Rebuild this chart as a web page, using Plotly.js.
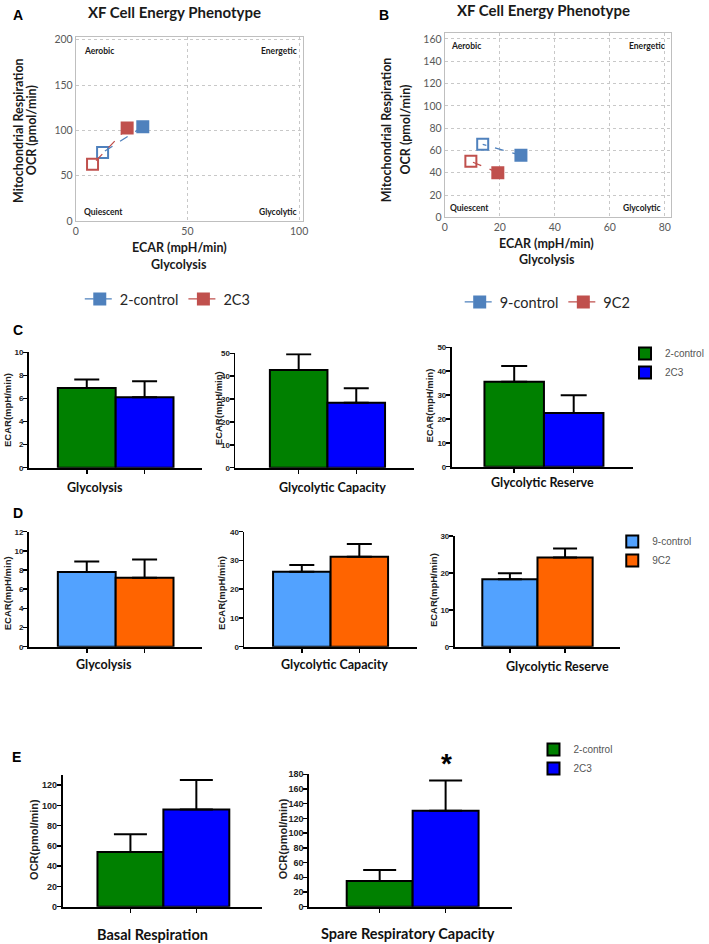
<!DOCTYPE html>
<html>
<head>
<meta charset="utf-8">
<script src="https://cdn.plot.ly/plotly-3.0.1.min.js"></script>
<style>
  html, body { margin: 0; padding: 0; background: #fff; }
  #fig { width: 709px; height: 944px; }
</style>
</head>
<body>
<div id="fig"></div>
<script>
// ---- values ----
// energy phenotype points, order: [stressed (filled), baseline (open)]
const ctrl2Ecar = [30, 12];
const ctrl2Ocr = [104, 75.5];
const c3Ecar = [23, 7.5];
const c3Ocr = [102.5, 62.5];
const ctrl9Ecar = [27.7, 13.8];
const ctrl9Ocr = [55.6, 65.5];
const c2Ecar = [19.3, 9.5];
const c2Ocr = [40, 50.2];

const groupsC = ['2-control', '2C3'];
const groupsD = ['9-control', '9C2'];

// bar means and upper error (SEM)
const glycolysisC = [6.9, 6.1];
const glycolysisCErr = [0.75, 1.4];
const capacityC = [42.7, 28.4];
const capacityCErr = [6.9, 6.3];
const reserveC = [35.6, 22.5];
const reserveCErr = [6.6, 7.4];

const glycolysisD = [7.8, 7.2];
const glycolysisDErr = [1.1, 1.9];
const capacityD = [26.1, 31.3];
const capacityDErr = [2.3, 4.4];
const reserveD = [18.3, 24.2];
const reserveDErr = [1.6, 2.4];

const basalE = [54, 96];
const basalEErr = [17.5, 29];
const spareE = [35, 130.5];
const spareEErr = [15, 41];

// ---- layout helpers ----
const W = 709, H = 944;
const px = v => v / W;
const py = v => 1 - v / H;

const LATO = 'Lato, "Open Sans", sans-serif';
const ARIAL = '"Liberation Sans", Arial, sans-serif';

const BLUE_XL = '#4F81BD';
const RED_XL = '#C0504D';
const colorsC = ['#008000', '#0000FF'];
const colorsD = ['#52A2FF', '#FF6400'];

function phenoTrace(name, ecar, ocr, color, n, legend) {
  return {
    type: 'scatter', mode: 'lines+markers', name: name,
    x: ecar, y: ocr, xaxis: 'x' + n, yaxis: 'y' + n, legend: legend,
    line: {color: color, width: 1.3, dash: 'dash'},
    marker: {symbol: ['square', 'square-open'], size: 11, color: color, line: {color: color, width: 2}},
    hoverinfo: 'none'
  };
}

function barTraces(groups, vals, errs, colors, n, capW, legend, showLegend) {
  return groups.map((g, i) => ({
    type: 'bar', name: g, x: [g], y: [vals[i]], width: 1,
    xaxis: 'x' + n, yaxis: 'y' + n,
    marker: {color: colors[i], line: {color: '#000', width: 2}},
    error_y: {type: 'data', symmetric: false, array: [errs[i]], arrayminus: [0],
              color: '#000', thickness: 2, width: capW},
    legend: legend, showlegend: showLegend, hoverinfo: 'none'
  }));
}

const traces = [
  phenoTrace('2-control', ctrl2Ecar, ctrl2Ocr, BLUE_XL, '', 'legend'),
  phenoTrace('2C3', c3Ecar, c3Ocr, RED_XL, '', 'legend'),
  phenoTrace('9-control', ctrl9Ecar, ctrl9Ocr, BLUE_XL, '2', 'legend2'),
  phenoTrace('9C2', c2Ecar, c2Ocr, RED_XL, '2', 'legend2'),
  ...barTraces(groupsC, glycolysisC, glycolysisCErr, colorsC, 3, 12.5, 'legend3', true),
  ...barTraces(groupsC, capacityC, capacityCErr, colorsC, 4, 12.5, 'legend3', false),
  ...barTraces(groupsC, reserveC, reserveCErr, colorsC, 5, 13, 'legend3', false),
  ...barTraces(groupsD, glycolysisD, glycolysisDErr, colorsD, 6, 12.5, 'legend4', true),
  ...barTraces(groupsD, capacityD, capacityDErr, colorsD, 7, 12.5, 'legend4', false),
  ...barTraces(groupsD, reserveD, reserveDErr, colorsD, 8, 12, 'legend4', false),
  ...barTraces(groupsC, basalE, basalEErr, colorsC, 9, 16.5, 'legend5', true),
  ...barTraces(groupsC, spareE, spareEErr, colorsC, 10, 16.5, 'legend5', false)
];

const layout = {
  width: W, height: H,
  margin: {l: 0, r: 0, t: 0, b: 0},
  paper_bgcolor: '#fff', plot_bgcolor: '#fff',
  barmode: 'overlay',
  showlegend: true,
  annotations: []
};

// phenotype scatter axes
function phenoAxes(n, xDom, yDom, xMax, yMax, xTicks, yTicks) {
  const common = {
    showgrid: true, gridcolor: '#c8c8c8', griddash: 'dot', gridwidth: 1,
    showline: true, mirror: true, linecolor: '#bfbfbf', linewidth: 1,
    zeroline: false, ticks: '', fixedrange: true,
    tickfont: {family: LATO, size: 10.5, color: '#595959'}
  };
  layout['xaxis' + n] = Object.assign({}, common, {
    domain: [px(xDom[0]), px(xDom[1])], range: [0, xMax], tickvals: xTicks, anchor: 'y' + n
  });
  layout['yaxis' + n] = Object.assign({}, common, {
    domain: [py(yDom[1]), py(yDom[0])], range: [0, yMax], tickvals: yTicks, anchor: 'x' + n
  });
}
phenoAxes('', [76, 304], [36.7, 221], 101.8, 203.3, [0, 50, 100], [0, 50, 100, 150, 200]);
phenoAxes('2', [446, 673], [33.3, 217.3], 82.3, 165.1, [0, 20, 40, 60, 80],
          [0, 20, 40, 60, 80, 100, 120, 140, 160]);

// bar panel axes
const barPanels = [
  {n: 3, x: [29, 203], y: [352.3, 467.7], xr: [-1, 2], yr: [0, 10], dt: 2, g: groupsC, fs: 8},
  {n: 4, x: [236, 415], y: [353.3, 467.7], xr: [-1.1, 2], yr: [0, 50], dt: 10, g: groupsC, fs: 8},
  {n: 5, x: [453, 635], y: [347.3, 466.7], xr: [-1.05, 2], yr: [0, 50], dt: 10, g: groupsC, fs: 8},
  {n: 6, x: [29, 203], y: [531.7, 646.7], xr: [-1, 2], yr: [0, 12], dt: 2, g: groupsD, fs: 8},
  {n: 7, x: [245, 418], y: [531.7, 646.7], xr: [-1, 2], yr: [0, 40], dt: 10, g: groupsD, fs: 8},
  {n: 8, x: [456, 622], y: [536, 646.7], xr: [-1, 2], yr: [0, 30], dt: 10, g: groupsD, fs: 8},
  {n: 9, x: [62.7, 263], y: [775, 906.7], xr: [-1.03, 2], yr: [0, 130], dt: 20, g: groupsC, fs: 9},
  {n: 10, x: [310, 513], y: [774.3, 906.7], xr: [-1.07, 2], yr: [0, 180], dt: 20, g: groupsC, fs: 9}
];
barPanels.forEach(p => {
  const line = {showline: true, linecolor: '#000', linewidth: 1.8, zeroline: false,
                showgrid: false, ticks: 'outside', ticklen: 4, tickwidth: 1.5,
                tickcolor: '#000', fixedrange: true};
  layout['xaxis' + p.n] = Object.assign({}, line, {
    type: 'category', categoryarray: p.g, categoryorder: 'array',
    domain: [px(p.x[0]), px(p.x[1])], range: p.xr, showticklabels: false, anchor: 'y' + p.n
  });
  layout['yaxis' + p.n] = Object.assign({}, line, {
    domain: [py(p.y[1]), py(p.y[0])], range: p.yr, dtick: p.dt, anchor: 'x' + p.n,
    ticklabelstandoff: -2,
    tickfont: {family: ARIAL, size: p.fs, color: '#222', weight: 700}
  });
});

// legends
const scatLegend = {orientation: 'h', xanchor: 'left', yanchor: 'middle', itemwidth: 30,
                    bgcolor: 'rgba(0,0,0,0)', font: {family: LATO, size: 14.5, color: '#262626'}};
layout.legend = Object.assign({}, scatLegend, {x: px(80), y: py(299)});
layout.legend2 = Object.assign({}, scatLegend, {x: px(461), y: py(302)});
const barLegend = {orientation: 'v', xanchor: 'left', yanchor: 'top', itemwidth: 30,
                   tracegroupgap: 0, bgcolor: 'rgba(0,0,0,0)',
                   font: {family: ARIAL, size: 10, color: '#555'}};
layout.legend3 = Object.assign({}, barLegend, {x: px(627), y: py(339)});
layout.legend4 = Object.assign({}, barLegend, {x: px(614), y: py(527)});
layout.legend5 = Object.assign({}, barLegend, {x: px(535), y: py(735)});

// ---- text ----
function label(text, x, y, font, extra) {
  return Object.assign({text: text, x: px(x), y: py(y), xref: 'paper', yref: 'paper',
                        showarrow: false, font: font, xanchor: 'center', yanchor: 'middle'}, extra || {});
}
const fTitle = {family: LATO, size: 15, color: '#1a1a1a', weight: 700};
const fAxis = {family: LATO, size: 12.5, color: '#1a1a1a', weight: 700};
const fQuad = {family: LATO, size: 8.5, color: '#1a1a1a', weight: 700};
const fLetter = {family: ARIAL, size: 14, color: '#000', weight: 700};
const fCat = {family: LATO, size: 12.5, color: '#111', weight: 700};
const fCatE = {family: LATO, size: 14.5, color: '#111', weight: 700};
const fBarY = {family: ARIAL, size: 9.5, color: '#222', weight: 700};
const fBarYE = {family: ARIAL, size: 11, color: '#222', weight: 700};
const rot = {textangle: -90};

layout.annotations.push(
  label('A', 18, 15, fLetter), label('B', 385, 15, fLetter),
  label('C', 18, 330, fLetter), label('D', 18, 513, fLetter), label('E', 17, 757, fLetter),

  label('XF Cell Energy Phenotype', 175, 12.5, fTitle),
  label('XF Cell Energy Phenotype', 545, 10.5, fTitle),

  label('Mitochondrial Respiration', 19, 130, fAxis, rot),
  label('OCR (pmol/min)', 32.3, 130, fAxis, rot),
  label('ECAR (mpH/min)', 180, 248, fAxis),
  label('Glycolysis', 180, 264.5, fAxis),
  label('Mitochondrial Respiration', 388.3, 130, fAxis, rot),
  label('OCR (pmol/min)', 406.7, 130, fAxis, rot),
  label('ECAR (mpH/min)', 548, 243.5, fAxis),
  label('Glycolysis', 549, 259.5, fAxis),

  label('Aerobic', 82, 50.7, fQuad, {xanchor: 'left'}),
  label('Energetic', 300, 50.7, fQuad, {xanchor: 'right'}),
  label('Quiescent', 82, 212, fQuad, {xanchor: 'left'}),
  label('Glycolytic', 300, 212, fQuad, {xanchor: 'right'}),
  label('Aerobic', 450.7, 46, fQuad, {xanchor: 'left'}),
  label('Energetic', 669, 46, fQuad, {xanchor: 'right'}),
  label('Quiescent', 449, 208.3, fQuad, {xanchor: 'left'}),
  label('Glycolytic', 665, 208.3, fQuad, {xanchor: 'right'}),

  label('Glycolysis', 95, 487, fCat),
  label('Glycolytic Capacity', 333.5, 487, fCat),
  label('Glycolytic Reserve', 544.5, 482, fCat),
  label('Glycolysis', 104, 664, fCat),
  label('Glycolytic Capacity', 335.5, 664, fCat),
  label('Glycolytic Reserve', 558.7, 666.7, fCat),
  label('Basal Respiration', 153, 934, fCatE),
  label('Spare Respiratory Capacity', 409.3, 933.5, fCatE),

  label('ECAR(mpH/min)', 7, 410, fBarY, rot),
  label('ECAR(mpH/min)', 218.5, 408.3, fBarY, rot),
  label('ECAR(mpH/min)', 431, 405.8, fBarY, rot),
  label('ECAR(mpH/min)', 7, 593.3, fBarY, rot),
  label('ECAR(mpH/min)', 221.5, 593, fBarY, rot),
  label('ECAR(mpH/min)', 435, 590.3, fBarY, rot),
  label('OCR(pmol/min)', 34, 839, fBarYE, rot),
  label('OCR(pmol/min)', 284, 839, fBarYE, rot),

  label('*', 447.3, 763, {family: ARIAL, size: 28, color: '#000', weight: 700})
);

Plotly.newPlot('fig', traces, layout, {displayModeBar: false, staticPlot: true});
</script>
</body>
</html>
